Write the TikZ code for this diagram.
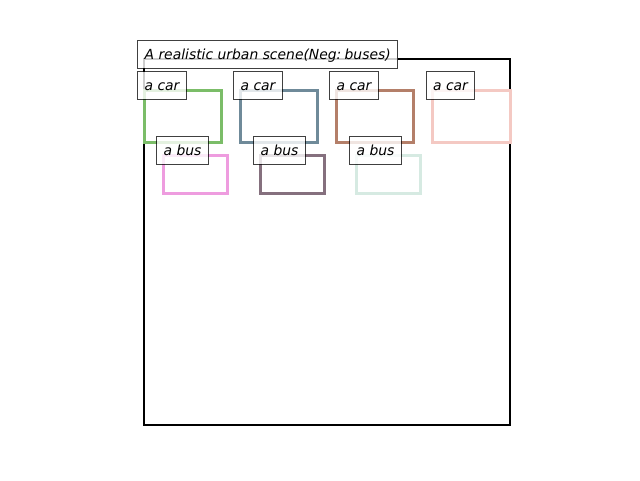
\documentclass[tikz,border=0pt]{standalone}
\usepackage{fontspec}
\setmainfont{DejaVu Sans}
\definecolor{carA}{HTML}{7BBD68}
\definecolor{carB}{HTML}{6F8A99}
\definecolor{carC}{HTML}{B47F69}
\definecolor{carD}{HTML}{F4C9C3}
\definecolor{busA}{HTML}{EE9CDF}
\definecolor{busB}{HTML}{85707E}
\definecolor{busC}{HTML}{D6EAE2}
\tikzset{
  box/.style={line width=3pt},
  tag/.style={draw=black,draw opacity=0.75,fill=white,fill opacity=0.8,text opacity=1,
    line width=1.2pt,inner xsep=6.8pt,inner ysep=5.6pt,text height=12.8pt,text depth=3.6pt,
    font=\fontsize{13.9pt}{16pt}\selectfont\itshape,anchor=base west,xshift=-6.8pt}
}
\begin{document}
\begin{tikzpicture}[x=1pt,y=-1pt]
\useasboundingbox (0,0) rectangle (640,480);
\draw [line width=2.4pt] (144,59) rectangle (510,425);
\node[tag] (title) at (144,59) {A realistic urban scene(Neg:\kern3.2pt buses)};
\foreach \x/\c [count=\i] in {144/carA,240/carB,336/carC,432.5/carD}{\draw [box,\c] (\x,90) rectangle +(77.5,52);}
\foreach \x/\c [count=\i] in {163/busA,260/busB,356/busC}{\draw [box,\c] (\x,155) rectangle +(64,38);}
\foreach \x [count=\i] in {144,240,336,432.5}{\node[tag] (car\i) at (\x,90) {a car};}
\foreach \x [count=\i] in {163,260,356}{\node[tag] (bus\i) at (\x,155) {a bus};}
\end{tikzpicture}
\end{document}
